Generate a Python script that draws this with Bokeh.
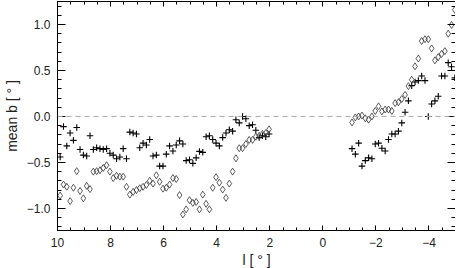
from bokeh.plotting import figure
from bokeh.models import (Range1d, FixedTicker, LinearAxis, Span,
                          CustomJSTickFormatter)
from bokeh.embed import file_html
from bokeh.resources import INLINE

# ---- data ----
l_inner = [9.900, 9.775, 9.650, 9.525, 9.400, 9.275, 9.150, 9.025,
           8.900, 8.775, 8.650, 8.525, 8.400, 8.275, 8.150, 8.025,
           7.900, 7.775, 7.650, 7.525, 7.400, 7.275, 7.150, 7.025,
           6.900, 6.775, 6.650, 6.525, 6.400, 6.275, 6.150, 6.025,
           5.900, 5.775, 5.650, 5.525, 5.400, 5.275, 5.150, 5.025,
           4.900, 4.775, 4.650, 4.525, 4.400, 4.275, 4.150, 4.025,
           3.900, 3.775, 3.650, 3.525, 3.400, 3.275, 3.150, 3.025,
           2.900, 2.775, 2.650, 2.525, 2.400, 2.275, 2.150, 2.025]
l_outer = [-1.100, -1.225, -1.350, -1.475, -1.600, -1.725, -1.850, -1.975,
           -2.100, -2.225, -2.350, -2.475, -2.600, -2.725, -2.850, -2.975,
           -3.100, -3.225, -3.350, -3.475, -3.600, -3.725, -3.850, -3.975,
           -4.100, -4.225, -4.350, -4.475, -4.600, -4.725, -4.850, -4.975]

plus_inner = [-0.44, -0.11, -0.32, -0.18, -0.26, -0.12, -0.36, -0.42,
              -0.43, -0.21, -0.36, -0.34, -0.35, -0.36, -0.35, -0.40,
              -0.42, -0.46, -0.44, -0.35, -0.46, -0.17, -0.18, -0.19,
              -0.34, -0.29, -0.31, -0.25, -0.43, -0.42, -0.54, -0.54,
              -0.41, -0.32, -0.375, -0.31, -0.265, -0.30, -0.48, -0.47,
              -0.51, -0.45, -0.38, -0.39, -0.22, -0.21, -0.25, -0.29,
              -0.32, -0.23, -0.18, -0.145, -0.16, -0.035, -0.07, 0.0,
              -0.025, -0.10, -0.09, -0.15, -0.23, -0.21, -0.22, -0.19]
diamond_inner = [-0.86, -0.74, -0.765, -0.92, -0.775, -0.595, -0.81, -0.89,
                 -0.755, -0.79, -0.60, -0.595, -0.585, -0.56, -0.53, -0.60,
                 -0.67, -0.645, -0.655, -0.655, -0.765, -0.85, -0.82, -0.80,
                 -0.78, -0.765, -0.745, -0.70, -0.73, -0.64, -0.71, -0.785,
                 -0.775, -0.74, -0.67, -0.68, -0.855, -1.065, -1.01, -0.91,
                 -0.94, -0.93, -1.01, -0.85, -0.95, -1.01, -0.775, -0.66,
                 -0.72, -0.795, -0.885, -0.73, -0.60, -0.455, -0.345, -0.345,
                 -0.30, -0.255, -0.255, -0.22, -0.21, -0.19, -0.18, -0.14]
plus_outer = [-0.35, -0.41, -0.29, -0.54, -0.48, -0.45, -0.46, -0.30,
              -0.29, -0.345, -0.375, -0.25, -0.19, -0.19, -0.16, -0.07,
              0.045, 0.17, 0.335, 0.375, 0.39, 0.44, 0.39, 0.0,
              0.135, 0.17, 0.22, 0.44, 0.44, 0.585, 0.54, 0.42]
diamond_outer = [-0.065, -0.01, 0.0, 0.01, -0.02, -0.035, 0.0, 0.06,
                 0.11, 0.055, 0.075, 0.075, 0.06, 0.145, 0.155, 0.19,
                 0.235, 0.33, 0.40, 0.545, 0.63, 0.82, 0.84, 0.84,
                 0.74, 0.61, 0.645, 0.68, 0.71, 0.90, 0.995, 1.16]

x_major = [10, 8, 6, 4, 2, 0, -2, -4]
x_minor = [10 - 0.5 * i for i in range(31)]
y_major = [-1.0, -0.5, 0.0, 0.5, 1.0]
y_minor = [round(-1.2 + 0.1 * i, 2) for i in range(25)]
x_label = "l [ ° ]"
y_label = "mean b [ ° ]"

FONT = "Liberation Sans"
TXT = "#222222"

p = figure(width=455, height=270, output_backend="svg", toolbar_location=None,
           x_range=Range1d(10, -5), y_range=Range1d(-1.24, 1.25),
           min_border_left=51, min_border_right=0, min_border_top=1,
           min_border_bottom=0, x_axis_label=x_label, y_axis_label=y_label)
p.grid.visible = False
p.outline_line_color = None
p.background_fill_color = "white"

xfmt = CustomJSTickFormatter(code="return String(tick).replace('-', '\u2212');")
yfmt = CustomJSTickFormatter(code="return tick.toFixed(1).replace('-', '\u2212');")
empty = CustomJSTickFormatter(code="return '';")

xa = p.xaxis[0]
ya = p.yaxis[0]
xa.ticker = FixedTicker(ticks=x_major, minor_ticks=x_minor)
ya.ticker = FixedTicker(ticks=y_major, minor_ticks=y_minor)
xa.formatter = xfmt
ya.formatter = yfmt

for ax, tin, mtin in ((xa, 5, 3), (ya, 8, 4)):
    ax.major_tick_in = tin
    ax.major_tick_out = 0
    ax.minor_tick_in = mtin
    ax.minor_tick_out = 0
    ax.axis_line_color = "black"
    ax.major_tick_line_color = "black"
    ax.minor_tick_line_color = "black"
    ax.major_label_text_font = FONT
    ax.major_label_text_font_size = "12px"
    ax.major_label_text_color = TXT
    ax.axis_label_text_font = FONT
    ax.axis_label_text_font_size = "14px"
    ax.axis_label_text_font_style = "normal"
    ax.axis_label_text_color = TXT
xa.major_label_standoff = 7
xa.axis_label_standoff = 2
ya.major_label_standoff = 7
ya.axis_label_standoff = 4

top = LinearAxis(ticker=FixedTicker(ticks=x_major, minor_ticks=x_minor),
                 formatter=empty, major_tick_in=5, major_tick_out=0,
                 minor_tick_in=3, minor_tick_out=0, major_label_standoff=0,
                 major_label_text_font_size="0px")
right = LinearAxis(ticker=FixedTicker(ticks=y_major, minor_ticks=y_minor),
                   formatter=empty, major_tick_in=8, major_tick_out=0,
                   minor_tick_in=4, minor_tick_out=0, major_label_standoff=0,
                   major_label_text_font_size="0px")
p.add_layout(top, "above")
p.add_layout(right, "right")

p.add_layout(Span(location=0, dimension="width", line_color="#aaaaaa",
                  line_dash="5 4", line_width=1))

for lx, yp, yd in ((l_inner, plus_inner, diamond_inner),
                   (l_outer, plus_outer, diamond_outer)):
    p.scatter(lx, yp, marker="cross", size=6.5, line_color="black",
              line_width=1.1)
    p.scatter(lx, yd, marker="diamond", size=7, line_color="#333333",
              fill_color=None, line_width=0.8)

open("out.html", "w").write(file_html(p, INLINE))
